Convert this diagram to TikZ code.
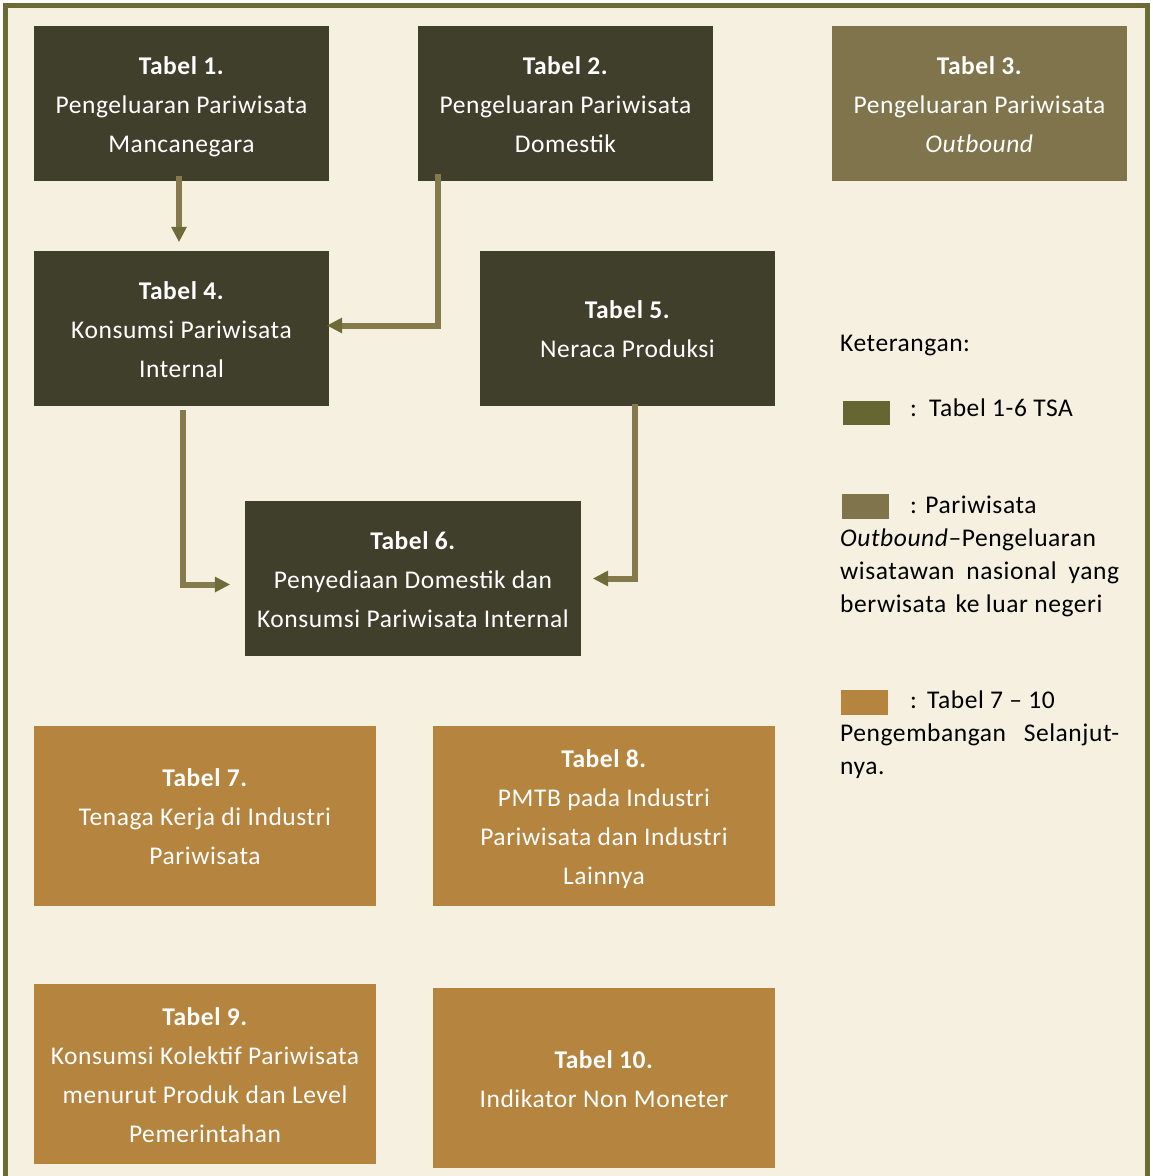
\documentclass[tikz,border=0pt]{standalone}
\usepackage{fontspec}
\setmainfont{Carlito}[LetterSpace=2.2]
\usetikzlibrary{arrows.meta}
\definecolor{dk}{HTML}{403F2C}
\definecolor{ol}{HTML}{7F744B}
\definecolor{og}{HTML}{B5843F}
\definecolor{bg}{HTML}{F6F0E1}
\definecolor{frm}{HTML}{6B6B35}
\definecolor{sw}{HTML}{666633}
\definecolor{shaft}{HTML}{857A4C}
\definecolor{headc}{HTML}{6E6B38}
\newcommand\st{\rule[-10pt]{0pt}{39pt}}
\begin{document}
\begin{tikzpicture}[x=1pt,y=-1pt,
  tbox/.style={inner sep=0pt,align=center,text=white,
    font={\fontsize{25.5}{39}\selectfont}},
  dkbox/.style={tbox,fill=dk},
  olbox/.style={tbox,fill=ol},
  ogbox/.style={tbox,fill=og},
  arr/.style={draw=shaft,line width=6pt,line join=miter,
    -{Triangle[length=15pt,width=16pt,line width=0pt,color=headc,fill=headc]}},
  lg/.style={anchor=base west,inner sep=0pt,text=black,
    font={\fontsize{25.5}{33}\selectfont}}]
\useasboundingbox (0,0) rectangle (1152,1176);
\fill[white] (0,0) rectangle (1152,1176);
\fill[bg] (5,5.8) rectangle (1147.5,1190);
\draw[frm,line width=5pt] (5,1190) -- (5,5.8) -- (1147.5,5.8) -- (1147.5,1190);

\node[dkbox,minimum width=295,minimum height=155] (t1) at (181.5,103.5)
  {\st\textbf{Tabel 1.}\\\st Pengeluaran Pariwisata\\\st Mancanegara};
\node[dkbox,minimum width=295,minimum height=155] (t2) at (565.5,103.5)
  {\st\textbf{Tabel 2.}\\\st Pengeluaran Pariwisata\\\st Domestik};
\node[olbox,minimum width=295,minimum height=155] (t3) at (979.5,103.5)
  {\st\textbf{Tabel 3.}\\\st Pengeluaran Pariwisata\\\st\textit{Outbound}};
\node[dkbox,minimum width=295,minimum height=155] (t4) at (181.5,328.5)
  {\st\textbf{Tabel 4.}\\\st Konsumsi Pariwisata\\\st Internal};
\node[dkbox,minimum width=295,minimum height=155] (t5) at (627.5,328.5)
  {\st\textbf{Tabel 5.}\\\st Neraca Produksi};
\node[dkbox,minimum width=336,minimum height=155] (t6) at (413,578.5)
  {\st\textbf{Tabel 6.}\\\st Penyediaan Domestik dan\\\st Konsumsi Pariwisata Internal};
\node[ogbox,minimum width=342,minimum height=180] (t7) at (205,816)
  {\st\textbf{Tabel 7.}\\\st Tenaga Kerja di Industri\\\st Pariwisata};
\node[ogbox,minimum width=342,minimum height=180] (t8) at (604,816)
  {\st\textbf{Tabel 8.}\\\st PMTB pada Industri\\\st Pariwisata dan Industri\\\st Lainnya};
\node[ogbox,minimum width=342,minimum height=180] (t9) at (205,1074)
  {\st\textbf{Tabel 9.}\\\st Konsumsi Kolektif Pariwisata\\\st menurut Produk dan Level\\\st Pemerintahan};
\node[ogbox,minimum width=342,minimum height=180] (t10) at (604,1078)
  {\st\textbf{Tabel 10.}\\\st Indikator Non Moneter};

\draw[arr] ([xshift=-2.5,yshift=5]t1.south) -- ([xshift=-2.5,yshift=9]t4.north);
\draw[arr] ([xshift=20,yshift=7]t2.south west) |- ([xshift=-2,yshift=3]t4.east);
\draw[arr] ([xshift=149,yshift=-4]t4.south west) |- ([xshift=-15,yshift=-6]t6.west);
\draw[arr] ([xshift=155,yshift=2]t5.south west) |- ([xshift=12]t6.east);

\node[lg] (k) at (840,351) {Keterangan:};
\fill[sw] (843,401) rectangle (890,425);
\node[lg] (l1) at (910,416) {:\hspace{12pt}Tabel 1-6 TSA};
\fill[ol] (842,494) rectangle (889,519);
\node[lg] (l2) at (910,513) {: Pariwisata};
\node[lg] (l2a) at (840,546) {\textit{Outbound}–Pengeluaran};
\node[lg] (l2b) at (840,579) {\hbox to 279pt{wisatawan\hfill nasional\hfill yang}};
\node[lg] (l2c) at (840,612) {berwisata\hspace{3pt} ke luar negeri};
\fill[og] (841,690) rectangle (888,715);
\node[lg] (l3) at (910,708) {:\hspace{10pt}Tabel 7 – 10};
\node[lg] (l3a) at (840,741) {\hbox to 279pt{Pengembangan\hfill Selanjut-}};
\node[lg] (l3b) at (840,774) {nya.};
\end{tikzpicture}
\end{document}
